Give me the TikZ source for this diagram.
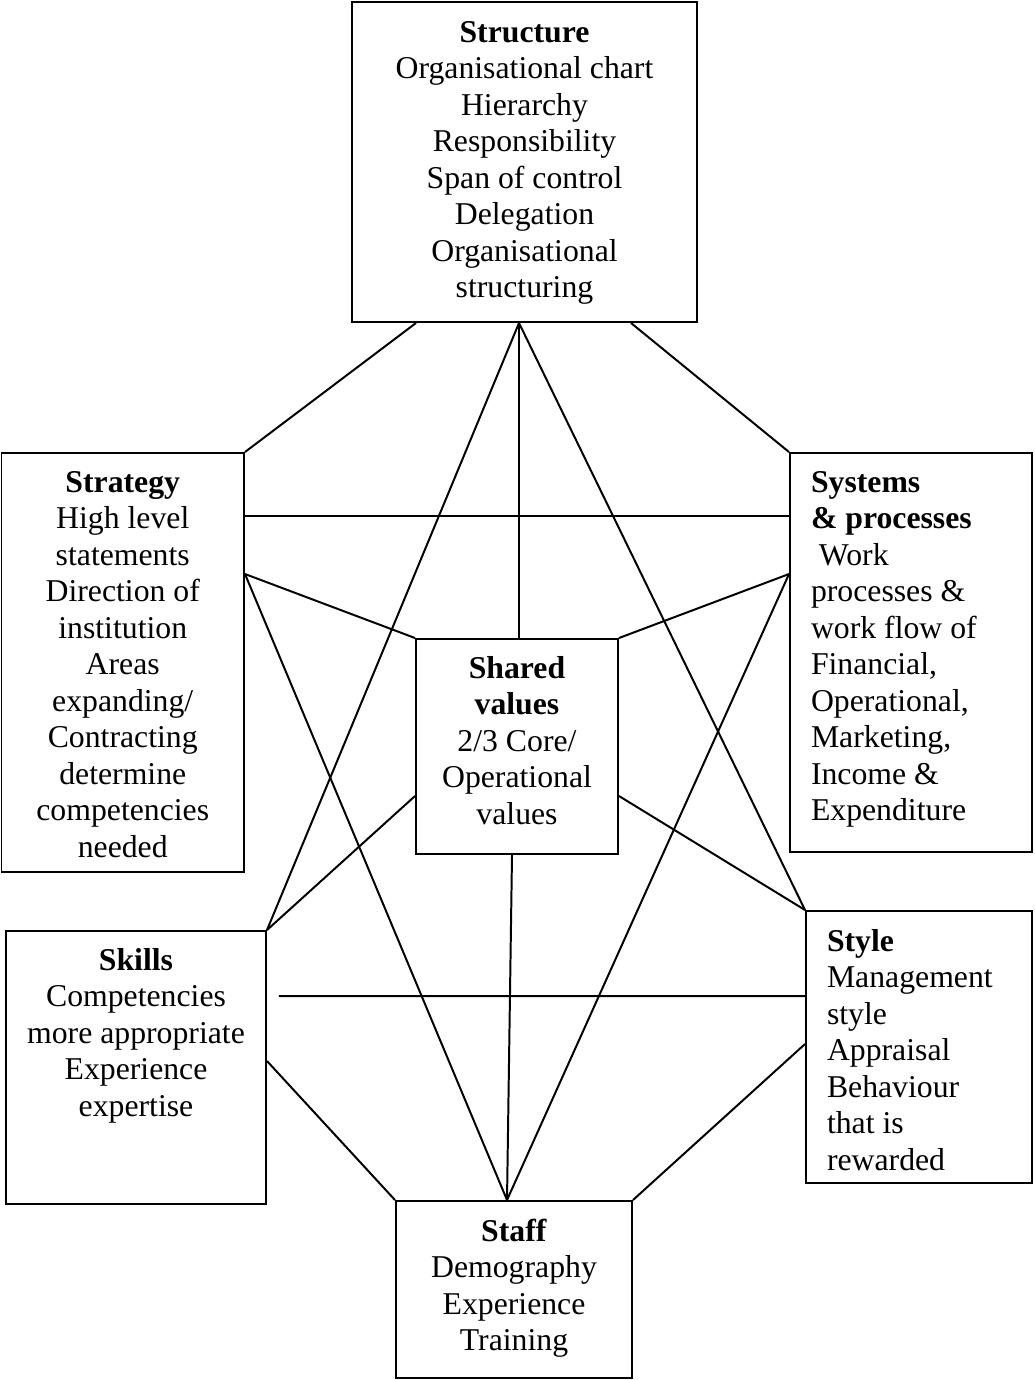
\documentclass[tikz,border=0pt]{standalone}
\usepackage{fontspec}
\setmainfont{Liberation Serif}
\usetikzlibrary{calc,fit}

\begin{document}
\begin{tikzpicture}[x=0.378pt, y=-0.378pt,
  box/.style={draw, line width=.75pt, inner sep=0pt},
  txt/.style={inner sep=0pt, font=\fontsize{12}{13.8}\selectfont},
  every path/.style={line width=.75pt}]
\useasboundingbox (0,0) rectangle (1034,1380);

% the seven boxes
\node [box, fit={(352,2) (697,322)}] (structure) {};
\node [box, fit={(1.5,453) (244,872)}] (strategy) {};
\node [box, fit={(790,453) (1032,852)}] (systems) {};
\node [box, fit={(416,639) (618,854)}] (shared) {};
\node [box, fit={(6,931) (266,1204)}] (skills) {};
\node [box, fit={(806,911) (1032,1183)}] (style) {};
\node [box, fit={(396,1201) (632,1378)}] (staff) {};

% their texts
\node [txt, anchor=north, align=center] (structuretext) at ($(structure.north)+(0,19)$)
  {\textbf{Structure}\\Organisational chart\\Hierarchy\\Responsibility\\Span of control\\Delegation\\Organisational\\structuring};
\node [txt, anchor=north, align=center] (strategytext) at ($(strategy.north)+(0,18)$)
  {\textbf{Strategy}\\High level\\statements\\Direction of\\institution\\Areas\\expanding/\\Contracting\\determine\\competencies\\needed};
\node [txt, anchor=north west, align=left] (systemstext) at ($(systems.north west)+(21,18)$)
  {\textbf{Systems}\\\textbf{\& processes}\\\hspace*{3pt}Work\\processes \&\\work flow of\\Financial,\\Operational,\\Marketing,\\Income \&\\Expenditure};
\node [txt, anchor=north, align=center] (sharedtext) at ($(shared.north)+(0,17)$)
  {\textbf{Shared}\\\textbf{values}\\2/3 Core/\\Operational\\values};
\node [txt, anchor=north, align=center] (skillstext) at ($(skills.north)+(0,17)$)
  {\textbf{Skills}\\Competencies\\more appropriate\\Experience\\expertise};
\node [txt, anchor=north west, align=left] (styletext) at ($(style.north west)+(21,18)$)
  {\textbf{Style}\\Management\\style\\Appraisal\\Behaviour\\that is\\rewarded};
\node [txt, anchor=north, align=center] (stafftext) at ($(staff.north)+(0,18)$)
  {\textbf{Staff}\\Demography\\Experience\\Training};

% links from structure
\draw ($(structure.south west)+(65,0)$) -- (strategy.north east);
\draw ($(structure.south west)+(280,0)$) -- (systems.north west);
\draw ($(structure.south west)+(168,0)$) -- ($(shared.north west)+(104,0)$);
\draw ($(structure.south west)+(168,0)$) -- (skills.north east);
\draw ($(structure.south west)+(168,0)$) -- (style.north west);

% links from strategy and systems
\draw ($(strategy.north east)+(0,64)$) -- ($(systems.north west)+(0,64)$);
\draw ($(strategy.north east)+(0,122)$) -- (shared.north west);
\draw ($(strategy.north east)+(0,122)$) -- ($(staff.north west)+(112,0)$);
\draw ($(systems.north west)+(0,122)$) -- (shared.north east);
\draw ($(systems.north west)+(0,122)$) -- ($(staff.north west)+(112,0)$);

% links from shared values
\draw ($(shared.north west)+(0,158)$) -- (skills.north east);
\draw ($(shared.north east)+(0,158)$) -- (style.north west);
\draw ($(shared.south west)+(97,0)$) -- ($(staff.north west)+(112,0)$);

% lower links
\coordinate (skillsend) at ($(skills.north east)+(12,66)$);
\draw (skillsend) -- ($(style.north west)+(0,86)$);
\draw ($(skills.north east)+(0,131)$) -- (staff.north west);
\draw ($(style.north west)+(0,134)$) -- (staff.north east);
\end{tikzpicture}
\end{document}
